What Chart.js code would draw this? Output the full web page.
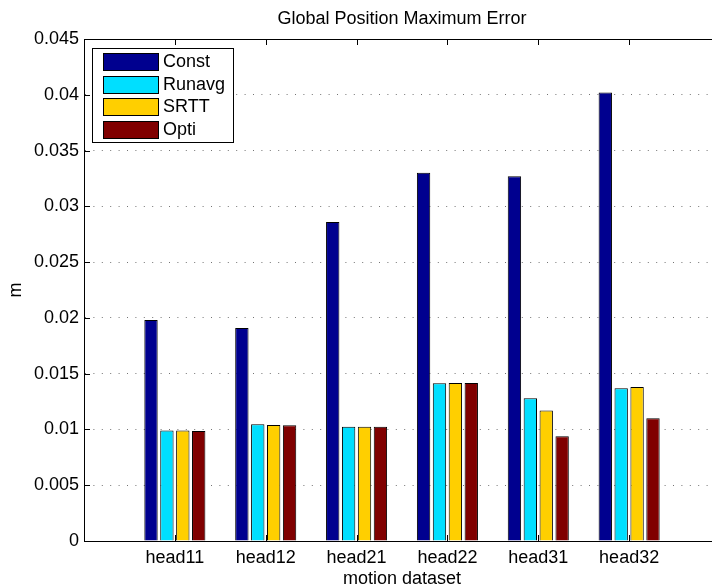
<!DOCTYPE html>
<html>
<head>
<meta charset="utf-8">
<title>Global Position Maximum Error</title>
<script src="https://cdn.jsdelivr.net/npm/chart.js@4"></script>
<style>
  html, body { margin: 0; padding: 0; background: #fff; overflow: hidden; width: 712px; height: 587px; }
  canvas { display: block; }
</style>
</head>
<body>
<canvas id="errChart" width="800" height="600"></canvas>
<script>
const categories = ["head11", "head12", "head21", "head22", "head31", "head32"];
const constErr  = [0.0198, 0.0191, 0.0286, 0.0330, 0.0327, 0.0402];
const runavgErr = [0.0099, 0.01046, 0.01025, 0.01414, 0.0128, 0.0137];
const srttErr   = [0.0099, 0.0104, 0.01025, 0.01416, 0.0117, 0.0138];
const optiErr   = [0.00986, 0.01037, 0.01025, 0.01416, 0.0094, 0.0110];
const yTicks = [0, 0.005, 0.01, 0.015, 0.02, 0.025, 0.03, 0.035, 0.04, 0.045];
const yTickLabels = ["0", "0.005", "0.01", "0.015", "0.02", "0.025", "0.03", "0.035", "0.04", "0.045"];

const FONT = '"Liberation Sans", Arial, Helvetica, sans-serif';
Chart.defaults.font.family = FONT;
Chart.defaults.color = "#000";

function toPoints(vals) {
  return vals.map((v, i) => ({ x: i + 1, y: v }));
}

// legend box drawn inside the axes, top-left
const legendBox = {
  id: "legendBox",
  afterDraw(chart) {
    const { ctx, chartArea } = chart;
    const sets = chart.data.datasets;
    const x0 = Math.round(chartArea.left) + 8;
    const y0 = Math.round(chartArea.top) + 9;
    ctx.save();
    ctx.font = "18px " + FONT;
    const textW = Math.max(...sets.map((d) => ctx.measureText(d.label).width));
    const w = Math.round(71 + textW + 8);
    const h = 94;
    ctx.fillStyle = "#fff";
    ctx.fillRect(x0, y0, w, h);
    ctx.strokeStyle = "#000";
    ctx.lineWidth = 1;
    ctx.strokeRect(x0 + 0.5, y0 + 0.5, w, h);
    sets.forEach((d, i) => {
      const sy = Math.round(y0 + 5 + i * 22.67);
      ctx.fillStyle = d.backgroundColor;
      ctx.fillRect(x0 + 11, sy, 55, 17);
      ctx.strokeRect(x0 + 11.5, sy + 0.5, 55, 17);
      ctx.fillStyle = "#000";
      ctx.textBaseline = "middle";
      ctx.textAlign = "left";
      ctx.fillText(d.label, x0 + 71, sy + 9);
    });
    ctx.restore();
  }
};

// box round the axes and inward tick marks
const axesFrame = {
  id: "axesFrame",
  beforeDatasetsDraw(chart) {
    const { ctx, chartArea: a, scales } = chart;
    const x = scales.x, y = scales.y;
    ctx.save();
    ctx.strokeStyle = "#000";
    ctx.lineWidth = 1;
    ctx.beginPath();
    x.ticks.forEach((t) => {
      const px = Math.round(x.getPixelForValue(t.value)) + 0.5;
      ctx.moveTo(px, a.bottom);
      ctx.lineTo(px, a.bottom - 6);
      ctx.moveTo(px, a.top);
      ctx.lineTo(px, a.top + 6);
    });
    y.ticks.forEach((t) => {
      const py = Math.round(y.getPixelForValue(t.value)) + 0.5;
      ctx.moveTo(a.left, py);
      ctx.lineTo(a.left + 6, py);
      ctx.moveTo(a.right, py);
      ctx.lineTo(a.right - 6, py);
    });
    ctx.stroke();
    ctx.strokeRect(Math.round(a.left) + 0.5, Math.round(a.top) + 0.5,
      Math.round(a.right - a.left), Math.round(a.bottom - a.top));
    ctx.restore();
  }
};

const barStyle = { borderColor: "#000", borderWidth: 1, categoryPercentage: 0.70, barPercentage: 0.84 };

new Chart(document.getElementById("errChart"), {
  type: "bar",
  data: {
    datasets: [
      { label: "Const", data: toPoints(constErr), backgroundColor: "#00008F", ...barStyle },
      { label: "Runavg", data: toPoints(runavgErr), backgroundColor: "#00DFFF", ...barStyle },
      { label: "SRTT", data: toPoints(srttErr), backgroundColor: "#FFCF00", ...barStyle },
      { label: "Opti", data: toPoints(optiErr), backgroundColor: "#800000", ...barStyle }
    ]
  },
  options: {
    responsive: false,
    animation: false,
    devicePixelRatio: 1,
    layout: { padding: { left: 0, right: 80, top: 0, bottom: 0 } },
    plugins: {
      legend: { display: false },
      tooltip: { enabled: false },
      title: {
        display: true,
        text: "Global Position Maximum Error",
        fullSize: false,
        color: "#000",
        font: { size: 18, weight: "normal" },
        padding: { top: 8, bottom: 9.4 }
      }
    },
    scales: {
      x: {
        type: "linear",
        min: 0,
        max: 7,
        offset: false,
        grid: { display: false },
        border: { color: "#000", width: 1 },
        afterBuildTicks: (s) => { s.ticks = categories.map((c, i) => ({ value: i + 1 })); },
        ticks: {
          callback: (v) => categories[v - 1] ?? "",
          font: { size: 18, lineHeight: 1 },
          color: "#000",
          padding: 0,
          maxRotation: 0,
          autoSkip: false
        },
        title: {
          display: true,
          text: "motion dataset",
          color: "#000",
          font: { size: 18 },
          padding: { top: 0, bottom: 10.5 }
        },
        afterFit: (s) => { s.height = 59; }
      },
      y: {
        min: 0,
        max: 0.045,
        afterBuildTicks: (s) => { s.ticks = yTicks.map((v) => ({ value: v })); },
        ticks: {
          callback: (v, i) => yTickLabels[i],
          font: { size: 18 },
          color: "#000",
          padding: 5
        },
        grid: { color: "rgba(0,0,0,0.55)", lineWidth: 1, drawTicks: false },
        border: { color: "#000", width: 1, dash: [1, 7.4] },
        title: {
          display: true,
          text: "m",
          color: "#000",
          font: { size: 18 },
          padding: { top: 5, bottom: 0 }
        },
        afterFit: (s) => { s.width = 84; }
      }
    }
  },
  plugins: [axesFrame, legendBox]
});
</script>
</body>
</html>
